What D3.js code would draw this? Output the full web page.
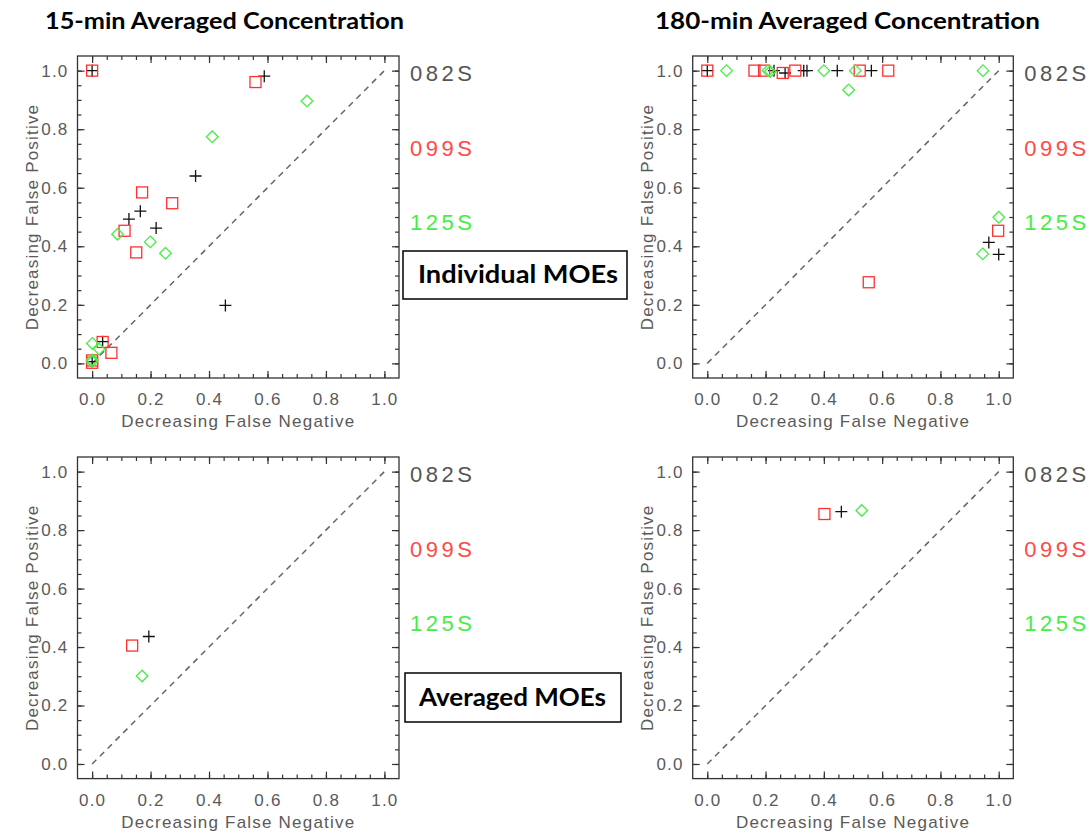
<!DOCTYPE html>
<html>
<head>
<meta charset="utf-8">
<script src="https://cdn.jsdelivr.net/npm/d3@7"></script>
<style>
  body { margin: 0; background: #fff; }
  svg { display: block; }
</style>
</head>
<body>
<svg width="1089" height="835"></svg>
<script>
// Data: [decreasing false negative, decreasing false positive]
const ind15_082S = [[0, 1.0], [0.589, 0.981], [0.354, 0.640], [0.165, 0.520], [0.126, 0.493],
  [0.219, 0.462], [0.456, 0.198], [0.036, 0.074], [0, 0.006]];
const ind15_099S = [[0, 1.0], [0.559, 0.961], [0.171, 0.584], [0.274, 0.547], [0.111, 0.453],
  [0.151, 0.379], [0.036, 0.073], [0.066, 0.036], [0, 0.010], [0, 0.002]];
const ind15_125S = [[0.735, 0.896], [0.411, 0.774], [0.087, 0.441], [0.199, 0.415], [0.251, 0.376],
  [0.001, 0.068], [0.024, 0.049], [0, 0.006], [0, 0.012]];

const ind180_082S = [[0, 1], [0.229, 1], [0.267, 0.992], [0.331, 1], [0.342, 1], [0.446, 1],
  [0.563, 1], [0.966, 0.413], [1.0, 0.372]];
const ind180_099S = [[0, 1], [0.162, 1], [0.195, 1], [0.259, 0.992], [0.302, 1], [0.523, 1],
  [0.621, 1], [0.554, 0.277], [0.998, 0.453]];
const ind180_125S = [[0.066, 1], [0.208, 1], [0.216, 0.997], [0.400, 1], [0.485, 0.934],
  [0.508, 1], [0.946, 1], [1.0, 0.499], [0.945, 0.374]];

const avg15_082S = [[0.194, 0.436]];
const avg15_099S = [[0.137, 0.405]];
const avg15_125S = [[0.171, 0.301]];

const avg180_082S = [[0.460, 0.863]];
const avg180_099S = [[0.402, 0.855]];
const avg180_125S = [[0.530, 0.867]];

const stations = ['082S', '099S', '125S'];
const stationColors = ['#555555', '#ff4a4a', '#44ee44'];
const majorTicks = [0, 0.2, 0.4, 0.6, 0.8, 1.0];
const minorTicks = d3.range(0, 21).map(i => i * 0.05);

const svg = d3.select('svg');

// panel frames
const panels = [
  { x: [77.5, 399], y: [378, 56], series: [ind15_082S, ind15_099S, ind15_125S] },
  { x: [692.7, 1013.3], y: [378, 56], series: [ind180_082S, ind180_099S, ind180_125S] },
  { x: [77.5, 399], y: [778.6, 457], series: [avg15_082S, avg15_099S, avg15_125S] },
  { x: [692.7, 1013.3], y: [778.6, 457], series: [avg180_082S, avg180_099S, avg180_125S] }
];

const labelFont = 'Liberation Sans, Arial, sans-serif';

panels.forEach(p => {
  const x = d3.scaleLinear().domain([-0.05, 1.05]).range(p.x);
  const y = d3.scaleLinear().domain([-0.05, 1.05]).range(p.y);
  const g = svg.append('g');
  const left = p.x[0], right = p.x[1], top = p.y[1], bottom = p.y[0];

  // axes, ticks pointing inward
  const addAxis = (axis, tr, size, vals, labels) => {
    const a = g.append('g')
      .attr('transform', tr)
      .call(axis.tickValues(vals).tickSize(size).tickPadding(labels ? 15 : 0)
        .tickFormat(labels ? d3.format('.1f') : ''));
    a.select('.domain').remove();
    a.selectAll('line').attr('stroke', '#333').attr('stroke-width', 1.2);
    a.selectAll('text').attr('fill', '#5a5a5a').attr('font-family', labelFont)
      .attr('font-size', 17).style('letter-spacing', '1.2px');
    return a;
  };
  addAxis(d3.axisBottom(x), `translate(0,${bottom})`, -7, majorTicks, true);
  addAxis(d3.axisBottom(x), `translate(0,${bottom})`, -4, minorTicks, false);
  addAxis(d3.axisTop(x), `translate(0,${top})`, -7, majorTicks, false);
  addAxis(d3.axisTop(x), `translate(0,${top})`, -4, minorTicks, false);
  const yl = addAxis(d3.axisLeft(y), `translate(${left},0)`, -7, majorTicks, true);
  yl.selectAll('text').attr('x', -9);
  addAxis(d3.axisLeft(y), `translate(${left},0)`, -4, minorTicks, false);
  addAxis(d3.axisRight(y), `translate(${right},0)`, -7, majorTicks, false);
  addAxis(d3.axisRight(y), `translate(${right},0)`, -4, minorTicks, false);

  g.append('rect')
    .attr('x', left).attr('y', top)
    .attr('width', right - left).attr('height', bottom - top)
    .attr('fill', 'none').attr('stroke', '#333').attr('stroke-width', 1.3);

  // axis titles
  g.append('text')
    .attr('x', x(0.5)).attr('y', bottom + 49)
    .attr('text-anchor', 'middle')
    .attr('fill', '#5a5a5a').attr('font-family', labelFont).attr('font-size', 17)
    .style('letter-spacing', '1.2px')
    .text('Decreasing False Negative');
  g.append('text')
    .attr('transform', `translate(${left - 39.5},${(top + bottom) / 2}) rotate(-90)`)
    .attr('text-anchor', 'middle')
    .attr('fill', '#5a5a5a').attr('font-family', labelFont).attr('font-size', 17)
    .style('letter-spacing', '1.2px')
    .text('Decreasing False Positive');

  // one-to-one line
  g.append('line')
    .attr('x1', x(0)).attr('y1', y(0)).attr('x2', x(1)).attr('y2', y(1))
    .attr('stroke', '#666').attr('stroke-width', 1.5).attr('stroke-dasharray', '6,5');

  // station labels
  stations.forEach((s, i) => {
    g.append('text')
      .attr('x', right + 11).attr('y', top + [25, 100, 174][i])
      .attr('fill', stationColors[i]).attr('font-family', labelFont)
      .attr('font-size', 22).style('letter-spacing', '3.5px')
      .text(s);
  });

  // markers: plus (082S), square (099S), diamond (125S)
  g.selectAll('.p082').data(p.series[0]).join('path')
    .attr('transform', d => `translate(${x(d[0])},${y(d[1])})`)
    .attr('d', 'M-6,0H6M0,-6V6')
    .attr('stroke', '#111').attr('stroke-width', 1.3).attr('fill', 'none');
  g.selectAll('.p099').data(p.series[1]).join('rect')
    .attr('x', d => x(d[0]) - 5.5).attr('y', d => y(d[1]) - 5.5)
    .attr('width', 11).attr('height', 11)
    .attr('stroke', '#ff3030').attr('stroke-width', 1.3).attr('fill', 'none');
  g.selectAll('.p125').data(p.series[2]).join('path')
    .attr('transform', d => `translate(${x(d[0])},${y(d[1])})`)
    .attr('d', 'M0,-5.8L5.8,0L0,5.8L-5.8,0Z')
    .attr('stroke', '#44ee44').attr('stroke-width', 1.3).attr('fill', 'none');
});

// column titles
const titleFont = 'Lato, Calibri, sans-serif';
svg.append('text').attr('x', 45).attr('y', 29)
  .attr('font-family', titleFont).attr('font-weight', 'bold').attr('font-size', 23)
  .attr('textLength', 359).attr('lengthAdjust', 'spacingAndGlyphs')
  .text('15-min Averaged Concentration');
svg.append('text').attr('x', 655).attr('y', 29)
  .attr('font-family', titleFont).attr('font-weight', 'bold').attr('font-size', 23)
  .attr('textLength', 385).attr('lengthAdjust', 'spacingAndGlyphs')
  .text('180-min Averaged Concentration');

// row boxes
const boxes = [
  { x: 403, y: 251, w: 224, h: 48, tx: 418, tw: 200, base: 283, label: 'Individual MOEs' },
  { x: 405, y: 673, w: 216, h: 49, tx: 419, tw: 187, base: 705.5, label: 'Averaged MOEs' }
];
boxes.forEach(b => {
  svg.append('rect').attr('x', b.x).attr('y', b.y).attr('width', b.w).attr('height', b.h)
    .attr('fill', '#fff').attr('stroke', '#000').attr('stroke-width', 1.5);
  svg.append('text').attr('x', b.tx).attr('y', b.base)
    .attr('font-family', titleFont).attr('font-weight', 'bold').attr('font-size', 24)
    .attr('textLength', b.tw).attr('lengthAdjust', 'spacingAndGlyphs')
    .text(b.label);
});
</script>
</body>
</html>
